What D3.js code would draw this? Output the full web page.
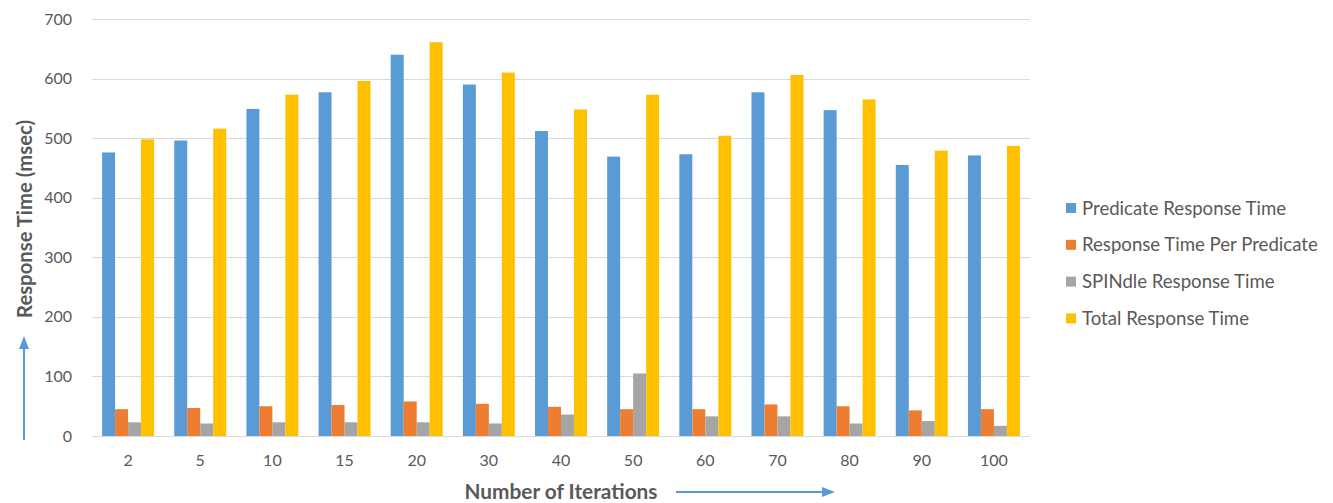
<!DOCTYPE html>
<html>
<head>
<meta charset="utf-8">
<script src="https://cdn.jsdelivr.net/npm/d3@7"></script>
<style>
  html, body { margin: 0; padding: 0; background: #fff; }
  svg { display: block; font-family: Lato, "Open Sans", sans-serif; }
</style>
</head>
<body>
<svg id="chart" width="1333" height="503"></svg>
<script>
// Iteration counts on the x axis
const iterations = ["2", "5", "10", "15", "20", "30", "40", "50", "60", "70", "80", "90", "100"];

// Response times in milliseconds, one array per series
const predicateResponse = [476, 496, 549, 577, 640, 590, 512, 469, 473, 577, 547, 455, 471];
const perPredicate      = [45, 47, 50, 52, 58, 54, 49, 45, 45, 53, 50, 43, 45];
const spindleResponse   = [23, 21, 23, 23, 23, 21, 36, 105, 33, 33, 21, 25, 17];
const totalResponse     = [498, 516, 573, 596, 661, 610, 548, 573, 504, 606, 565, 479, 487];

const seriesNames = ["Predicate Response Time", "Response Time Per Predicate", "SPINdle Response Time", "Total Response Time"];
const seriesColors = ["#5b9bd5", "#ed7d31", "#a5a5a5", "#ffc000"];
const seriesValues = [predicateResponse, perPredicate, spindleResponse, totalResponse];

const yTicks = [0, 100, 200, 300, 400, 500, 600, 700];

const svg = d3.select("#chart");
const plot = { left: 92, right: 1030, top: 19, bottom: 436 };
const textColor = "#595959";

const x = d3.scaleBand()
  .domain(iterations)
  .range([plot.left, plot.right])
  .paddingInner(0.28)
  .paddingOuter(0.14);

const xInner = d3.scaleBand()
  .domain(seriesNames)
  .range([0, x.bandwidth()]);

const y = d3.scaleLinear()
  .domain([0, 700])
  .range([plot.bottom, plot.top]);

// Horizontal gridlines
svg.append("g")
  .selectAll("line")
  .data(yTicks)
  .join("line")
  .attr("x1", plot.left)
  .attr("x2", plot.right)
  .attr("y1", d => Math.round(y(d)) + 0.5)
  .attr("y2", d => Math.round(y(d)) + 0.5)
  .attr("stroke", "#d9d9d9")
  .attr("stroke-width", 1);

// Y tick labels
const yAxis = d3.axisLeft(y).tickValues(yTicks).tickSize(0).tickPadding(0);
const yG = svg.append("g")
  .attr("transform", `translate(${plot.left - 20},0)`)
  .call(yAxis);
yG.select(".domain").remove();
yG.selectAll("text")
  .attr("fill", textColor)
  .style("font-size", "16px")
  .style("font-family", "Lato, sans-serif");

// X tick labels
const xAxis = d3.axisBottom(x).tickSize(0).tickPadding(0);
const xG = svg.append("g")
  .attr("transform", `translate(0,${plot.bottom + 19})`)
  .call(xAxis);
xG.select(".domain").remove();
xG.selectAll("text")
  .attr("fill", textColor)
  .style("font-size", "16px")
  .style("font-family", "Lato, sans-serif");

// Clustered bars
const groups = svg.append("g")
  .selectAll("g")
  .data(iterations)
  .join("g")
  .attr("transform", d => `translate(${x(d)},0)`);

groups.selectAll("rect")
  .data((d, i) => seriesNames.map((name, s) => ({ name, color: seriesColors[s], value: seriesValues[s][i] })))
  .join("rect")
  .attr("x", d => xInner(d.name))
  .attr("width", xInner.bandwidth())
  .attr("y", d => y(d.value))
  .attr("height", d => y(0) - y(d.value))
  .attr("fill", d => d.color);

// Legend
const legend = svg.append("g").attr("transform", "translate(1066,0)");
const legendRows = legend.selectAll("g")
  .data(seriesNames)
  .join("g")
  .attr("transform", (d, i) => `translate(0,${208 + i * 36.8})`);
legendRows.append("rect")
  .attr("x", 0)
  .attr("y", -5)
  .attr("width", 10)
  .attr("height", 10)
  .attr("fill", (d, i) => seriesColors[i]);
legendRows.append("text")
  .attr("x", 16)
  .attr("dy", "0.35em")
  .attr("fill", textColor)
  .style("font-size", "18.6px")
  .text(d => d);

// Axis titles
svg.append("text")
  .attr("transform", "translate(32,219) rotate(-90)")
  .attr("text-anchor", "middle")
  .attr("fill", textColor)
  .style("font-size", "20.3px")
  .style("font-weight", "bold")
  .text("Response Time (msec)");

svg.append("text")
  .attr("x", 561)
  .attr("y", 499)
  .attr("text-anchor", "middle")
  .attr("fill", textColor)
  .style("font-size", "20.8px")
  .style("font-weight", "bold")
  .text("Number of Iterations");

// Direction arrows beside the axis titles
const arrowColor = "#5b9bd5";
svg.append("line")
  .attr("x1", 24).attr("y1", 440)
  .attr("x2", 24).attr("y2", 347)
  .attr("stroke", arrowColor).attr("stroke-width", 2);
svg.append("path")
  .attr("d", d3.line()([[24, 336], [29, 349], [19, 349]]) + "Z")
  .attr("fill", arrowColor);

svg.append("line")
  .attr("x1", 676).attr("y1", 492)
  .attr("x2", 823).attr("y2", 492)
  .attr("stroke", arrowColor).attr("stroke-width", 2);
svg.append("path")
  .attr("d", d3.line()([[835, 492], [822, 487], [822, 497]]) + "Z")
  .attr("fill", arrowColor);
</script>
</body>
</html>
